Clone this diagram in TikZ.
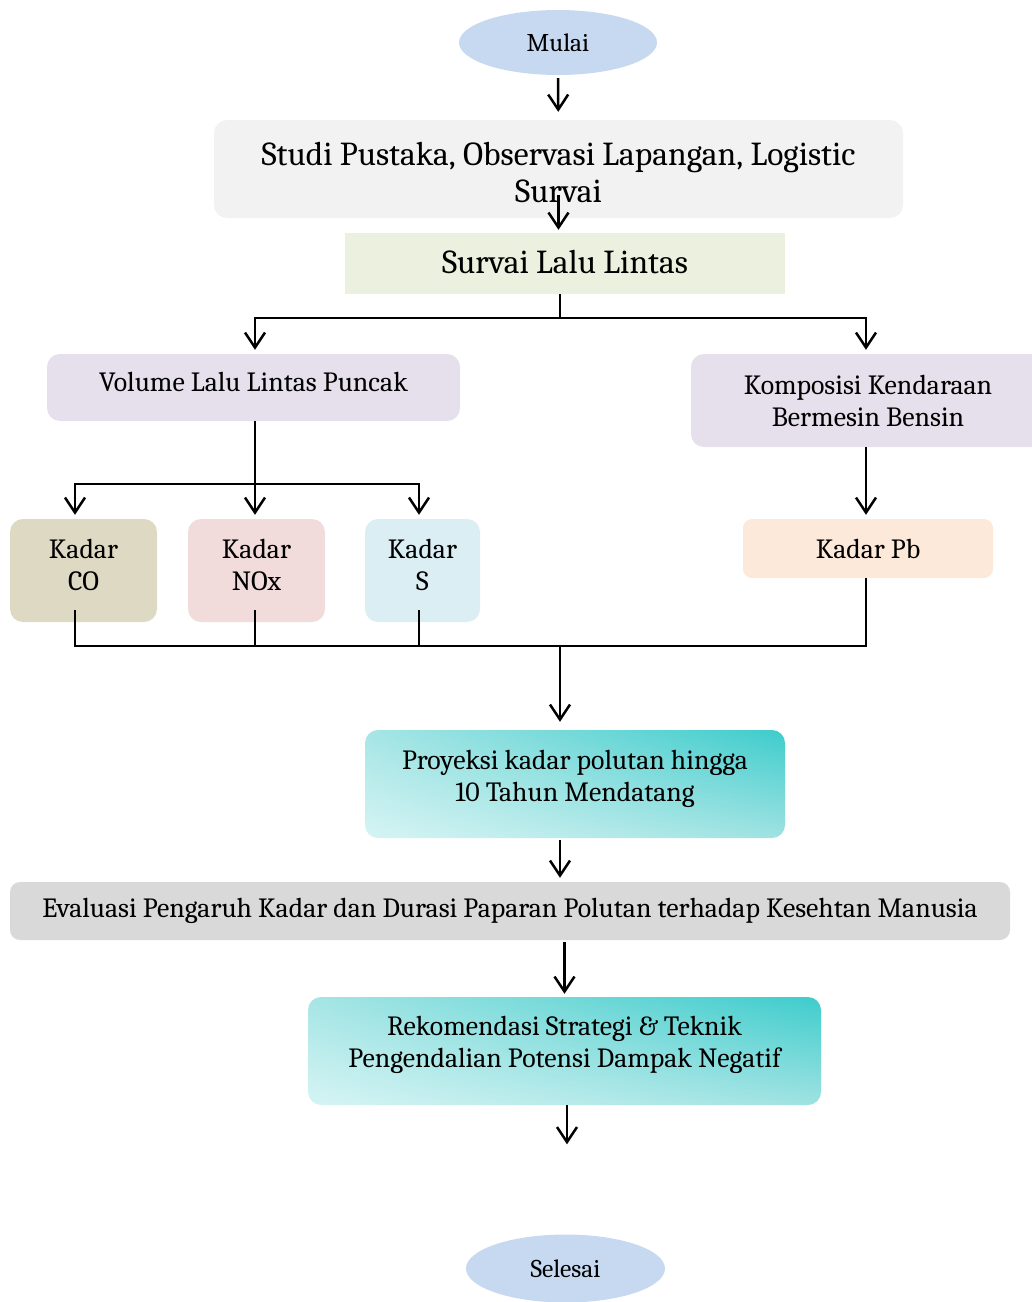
\documentclass[tikz,border=0pt]{standalone}
\usepackage{fontspec}
\setmainfont{Caladea}
\usetikzlibrary{arrows.meta,shapes.geometric,shadings}
\definecolor{ellblue}{HTML}{C6D9F1}
\definecolor{studigray}{HTML}{F2F2F2}
\definecolor{survgreen}{HTML}{EBF1DE}
\definecolor{lilac}{HTML}{E5E0EC}
\definecolor{cokhaki}{HTML}{DDD9C3}
\definecolor{noxpink}{HTML}{F2DCDB}
\definecolor{sblue}{HTML}{DBEEF3}
\definecolor{pbpeach}{HTML}{FDE9D9}
\definecolor{evalgray}{HTML}{D9D9D9}
\definecolor{tealdark}{HTML}{3ECCCC}
\definecolor{teallight}{HTML}{D6F4F4}
\definecolor{tealmidA}{HTML}{A6E5E5}
\definecolor{tealmidB}{HTML}{9FE2E2}
\newcommand{\lowstrut}[1]{\rule[-#1]{0pt}{#1}}
\tikzset{
  x=1pt, y=-1pt,
  normaltext/.style={font=\fontsize{27.8}{32}\selectfont},
  bigtext/.style={font=\fontsize{33.5}{37}\selectfont},
  ovalbox/.style={ellipse, fill=ellblue, inner sep=0pt, font=\fontsize{25.5}{30}\selectfont},
  procbox/.style={rectangle, rounded corners=13pt, inner sep=0pt, align=center, normaltext},
  gradbox/.style={procbox, lower left=teallight, upper right=tealdark, upper left=tealmidA, lower right=tealmidB},
  line/.style={draw=black, line width=2.5pt},
  arr/.style={line, -{Straight Barb[length=15pt,width=20pt,line width=2.5pt]}}
}
\begin{document}
\begin{tikzpicture}
\useasboundingbox (0,0) rectangle (1032,1302);
% nodes
\node[ovalbox, minimum width=198pt, minimum height=65pt] (mulai) at (558,42.5) {Mulai};
\node[procbox, bigtext, fill=studigray, minimum width=689pt, minimum height=98pt] (studi) at (558.5,169) {\rule{0pt}{30pt}Studi Pustaka, Observasi Lapangan, Logistic\\Survai};
\node[rectangle, bigtext, fill=survgreen, inner sep=0pt, minimum width=440pt, minimum height=61pt] (survai) at (565,263.5) {Survai Lalu Lintas\lowstrut{4pt}};
\node[procbox, fill=lilac, minimum width=413pt, minimum height=67pt] (vol) at (253.5,387.5) {Volume Lalu Lintas Puncak\lowstrut{12pt}};
\node[procbox, fill=lilac, minimum width=354pt, minimum height=93pt] (komp) at (868,400.5) {Komposisi Kendaraan\\Bermesin Bensin};
\node[procbox, fill=cokhaki, minimum width=147pt, minimum height=103pt] (co) at (83.5,570.5) {Kadar\\CO\lowstrut{12pt}};
\node[procbox, fill=noxpink, minimum width=137pt, minimum height=103pt] (nox) at (256.5,570.5) {Kadar\\NOx\lowstrut{12pt}};
\node[procbox, fill=sblue, minimum width=115pt, minimum height=103pt] (sbox) at (422.5,570.5) {Kadar\\S\lowstrut{12pt}};
\node[procbox, fill=pbpeach, rounded corners=9pt, minimum width=250pt, minimum height=59pt] (pb) at (868,548.5) {Kadar Pb};
\node[gradbox, minimum width=420pt, minimum height=108pt] (proy) at (575,784) {Proyeksi kadar polutan hingga\\10 Tahun Mendatang\lowstrut{16pt}};
\node[procbox, fill=evalgray, rounded corners=10pt, minimum width=1000pt, minimum height=58pt] (eval) at (510,911) {Evaluasi Pengaruh Kadar dan Durasi Paparan Polutan terhadap Kesehtan Manusia};
\node[gradbox, minimum width=513pt, minimum height=108pt] (rekom) at (564.5,1051) {Rekomendasi Strategi \& Teknik\\Pengendalian Potensi Dampak Negatif\lowstrut{18pt}};
\node[ovalbox, minimum width=199pt, minimum height=68pt] (selesai) at (565.5,1268.5) {Selesai};
% connectors
\draw[arr, shorten <=3pt, shorten >=8pt] (mulai) -- (studi);
\draw[arr, shorten >=3pt] ([yshift=23pt]studi.south) -- (studi.south |- survai.north);
\coordinate (j1) at (560,318);
\draw[line] ([xshift=-5pt]survai.south) -- (j1);
\draw[arr, shorten >=4pt] (j1) -| ([xshift=1.5pt]vol.north);
\draw[arr, shorten >=4pt] (j1) -| ([xshift=-2pt]komp.north);
\coordinate (j2) at (255,484);
\draw[arr, shorten >=4pt] ([xshift=1.5pt]vol.south) -- (j2 |- nox.north);
\draw[arr, shorten >=4pt] (j2) -| ([xshift=-8.5pt]co.north);
\draw[arr, shorten >=4pt] (j2) -| ([xshift=-3.5pt]sbox.north);
\draw[arr, shorten >=4pt] ([xshift=-2pt]komp.south) -- ([xshift=-2pt]pb.north);
\coordinate (j3) at (560,646);
\draw[line] ([xshift=-8.5pt,yshift=12pt]co.south) |- (j3) -| ([xshift=-2pt]pb.south);
\draw[line] ([xshift=-1.5pt,yshift=12pt]nox.south) -- ([xshift=-1.5pt]nox.south |- j3);
\draw[line] ([xshift=-3.5pt,yshift=12pt]sbox.south) -- ([xshift=-3.5pt]sbox.south |- j3);
\draw[arr, shorten >=8pt] (j3) -- (j3 |- proy.north);
\draw[arr, shorten <=2pt, shorten >=4pt] ([xshift=-15pt]proy.south) -- ([xshift=-15pt]proy.south |- eval.north);
\draw[arr, shorten <=2pt, shorten >=3pt] (eval.south -| rekom.north) -- (rekom.north);
\draw[arr, shorten >=90pt] ([xshift=2.5pt]rekom.south) -- ([xshift=2.5pt]rekom.south |- selesai.north);
\end{tikzpicture}
\end{document}
